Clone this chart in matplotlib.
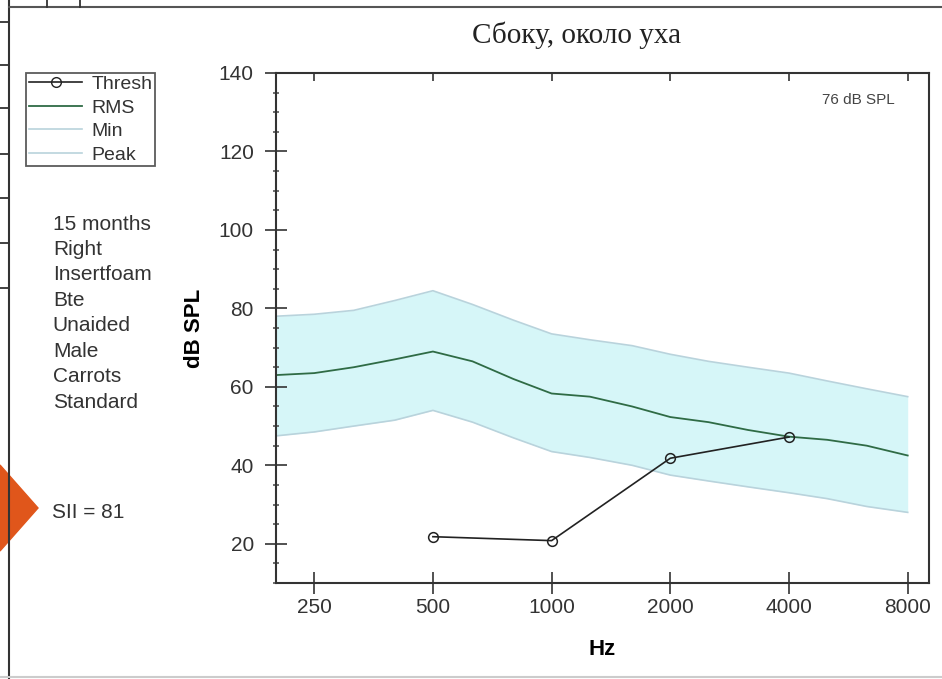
import numpy as np
import matplotlib.pyplot as plt
from matplotlib.patches import Polygon
from matplotlib.lines import Line2D
from matplotlib.ticker import FixedLocator, MultipleLocator, NullFormatter, NullLocator

plt.rcParams['font.family'] = ['Liberation Sans', 'DejaVu Sans']

# данные
freq = [200, 250, 315, 400, 500, 630, 800, 1000, 1250, 1600, 2000, 2500, 3150, 4000, 5000, 6300, 8000]
peak = [78, 78.5, 79.5, 82, 84.5, 81, 77, 73.5, 72, 70.5, 68.3, 66.5, 65, 63.5, 61.5, 59.5, 57.5]
rms = [63, 63.5, 65, 67, 69, 66.5, 62, 58.3, 57.5, 55, 52.3, 51, 49, 47.3, 46.5, 45, 42.5]
smin = [47.5, 48.5, 50, 51.5, 54, 51, 47, 43.5, 42, 40, 37.5, 36, 34.5, 33, 31.5, 29.5, 28]
thr_freq = [500, 1000, 2000, 4000]
thresh = [21.8, 20.8, 41.8, 47.2]

xticks = [250, 500, 1000, 2000, 4000, 8000]
info = ['15 months', 'Right', 'Insertfoam', 'Bte', 'Unaided', 'Male', 'Carrots', 'Standard']

fig = plt.figure(figsize=(9.42, 6.79), dpi=100)
ax = fig.add_axes([0.293, 0.1414, 0.693, 0.7511])

ax.fill_between(freq, smin, peak, color='#d6f6f8', lw=0)
ax.plot(freq, peak, color='#b9d3dc', lw=1.2)
ax.plot(freq, smin, color='#b9d3dc', lw=1.2)
ax.plot(freq, rms, color='#2f6b45', lw=1.3)
ax.plot(thr_freq, thresh, color='#222222', lw=1.2, marker='o', ms=7,
        mfc='none', mec='#222222', mew=1.1)

ax.set_xscale('log')
ax.set_xlim(200, 9050)
ax.set_ylim(10, 140)
ax.xaxis.set_major_locator(FixedLocator(xticks))
ax.xaxis.set_minor_locator(NullLocator())
ax.set_xticklabels([str(t) for t in xticks])
ax.yaxis.set_major_locator(MultipleLocator(20))
ax.yaxis.set_minor_locator(MultipleLocator(5))

for s in ax.spines.values():
    s.set_color('#333333')
    s.set_linewidth(1.5)
ax.tick_params(axis='both', which='major', direction='inout', length=16, width=1.2,
               color='#333333', labelsize=15, labelcolor='#333333')
ax.tick_params(axis='y', which='major', pad=8)
ax.tick_params(axis='x', which='major', pad=3)
ax.tick_params(axis='y', which='minor', direction='inout', length=5, width=1.2, color='#555555')

# верхние засечки внутрь
top = ax.secondary_xaxis('top')
top.xaxis.set_major_locator(FixedLocator(xticks))
top.xaxis.set_minor_locator(NullLocator())
top.tick_params(direction='in', length=6, width=1.2, color='#333333', labeltop=False)
top.spines['top'].set_visible(False)

ax.set_xlabel('Hz', fontsize=16, fontweight='bold', labelpad=16)
ax.set_ylabel('dB SPL', fontsize=16, fontweight='bold', labelpad=10)
ax.text(0.948, 0.96, '76 dB SPL', transform=ax.transAxes, ha='right', va='top',
        fontsize=11, color='#444444')

fig.text(0.612, 0.948, 'Сбоку, около уха', ha='center', va='center',
         fontsize=21, family=['Liberation Serif', 'DejaVu Serif'], color='#222222')

# легенда
handles = [Line2D([], [], color='#222222', marker='o', mfc='none', ms=7, lw=1.2),
           Line2D([], [], color='#2f6b45', lw=1.3),
           Line2D([], [], color='#b9d3dc', lw=1.2),
           Line2D([], [], color='#b9d3dc', lw=1.2)]
leg = fig.legend(handles, ['Thresh', 'RMS', 'Min', 'Peak'], loc='upper left',
                 bbox_to_anchor=(0.028, 0.893), fontsize=14, frameon=True, fancybox=False,
                 borderpad=0.15, labelspacing=0.3, handlelength=2.7, handletextpad=0.5,
                 borderaxespad=0)
leg.get_frame().set_edgecolor('#333333')
leg.get_frame().set_linewidth(1.3)
for t in leg.get_texts():
    t.set_color('#333333')

fig.text(0.056, 0.684, '\n'.join(info), ha='left', va='top', fontsize=15,
         color='#333333', linespacing=1.43)
fig.text(0.055, 0.245, 'SII = 81', ha='left', va='center', fontsize=15, color='#333333')

# рамка слайда и оранжевый ромб
fig.add_artist(Line2D([0.0096, 0.0096], [0, 1], color='#333333', lw=1.5))
fig.add_artist(Line2D([0.0096, 1], [0.990, 0.990], color='#555555', lw=1.5))
fig.add_artist(Line2D([0, 1], [0.003, 0.003], color='#cccccc', lw=1.5))
for yy in [22, 65, 108, 154, 198, 243, 288]:
    fig.add_artist(Line2D([0, 0.0096], [1 - yy / 679] * 2, color='#333333', lw=1.3))
for xx in [47, 80]:
    fig.add_artist(Line2D([xx / 942] * 2, [0.990, 1], color='#333333', lw=1.3))
fig.add_artist(Polygon([[0, 1 - 465 / 679], [38 / 942, 1 - 508 / 679], [0, 1 - 551 / 679]],
                       closed=True, transform=fig.transFigure, color='#e0561b'))

fig.savefig('out.png', dpi=100)
